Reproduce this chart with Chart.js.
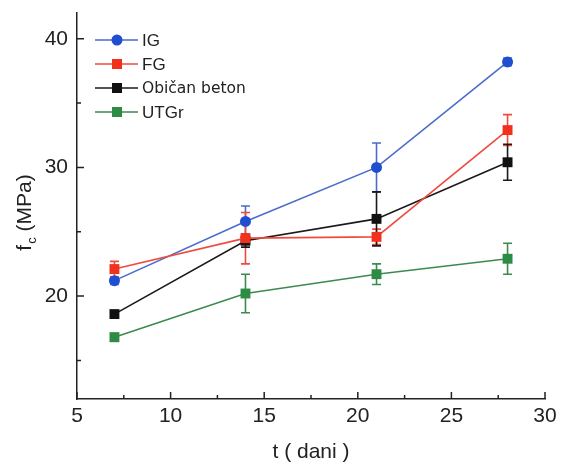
<!DOCTYPE html>
<html><head><meta charset="utf-8">
<script src="https://cdn.jsdelivr.net/npm/chart.js@4/dist/chart.umd.min.js"></script>
<style>html,body{margin:0;padding:0;background:#fff}#wrap{width:561px;height:465px}</style>
</head><body><div id="wrap"><canvas id="c" width="561" height="465"></canvas></div>
<script>
const days = [7, 14, 21, 28];
const seriesNames = ['IG', 'FG', 'Običan beton', 'UTGr'];
const igValues = [21.2, 25.8, 30.0, 38.2];
const igErrors = [0.3, 1.2, 1.9, 0.3];
const fgValues = [22.1, 24.5, 24.6, 32.9];
const fgErrors = [0.6, 2.0, 0.6, 1.2];
const obValues = [18.6, 24.3, 26.0, 30.4];
const obErrors = [0.2, 0.5, 2.1, 1.4];
const utValues = [16.8, 20.2, 21.7, 22.9];
const utErrors = [0.3, 1.5, 0.8, 1.2];
const xTicks = [5, 10, 15, 20, 25, 30];
const yTicks = [20, 30, 40];

const FONT = '"Liberation Sans", Arial, sans-serif';

function mk(label, vals, errs, color, lineColor, style, radius, order) {
  return {
    label, data: days.map((d, i) => ({x: d, y: vals[i]})), errors: errs,
    borderColor: lineColor, backgroundColor: color, pointBackgroundColor: color,
    pointBorderColor: color, pointStyle: style, pointRadius: radius, pointBorderWidth: 0,
    borderWidth: 1.6, tension: 0, order
  };
}

const datasets = [
  mk(seriesNames[0], igValues, igErrors, '#1f4fd0', '#4a6ccc', 'circle', 5.5, 2),
  mk(seriesNames[1], fgValues, fgErrors, '#f2301e', '#f04a3c', 'rect', 7, 0),
  mk(seriesNames[2], obValues, obErrors, '#111111', '#1a1a1a', 'rect', 7, 1),
  mk(seriesNames[3], utValues, utErrors, '#2e8b44', '#3d8a50', 'rect', 7, 3)
];

const customDraw = {
  id: 'customDraw',
  beforeDatasetsDraw(chart) {
    const ctx = chart.ctx, xs = chart.scales.x, ys = chart.scales.y;
    ctx.save();
    chart.data.datasets.forEach(ds => {
      ctx.strokeStyle = ds.borderColor; ctx.lineWidth = 1.6;
      ds.data.forEach((p, i) => {
        const e = ds.errors[i];
        const px = xs.getPixelForValue(p.x);
        const t = ys.getPixelForValue(p.y + e), b = ys.getPixelForValue(p.y - e);
        ctx.beginPath();
        ctx.moveTo(px, t); ctx.lineTo(px, b);
        ctx.moveTo(px - 4.5, t); ctx.lineTo(px + 4.5, t);
        ctx.moveTo(px - 4.5, b); ctx.lineTo(px + 4.5, b);
        ctx.stroke();
      });
    });
    ctx.restore();
  },
  afterDraw(chart) {
    const ctx = chart.ctx, xs = chart.scales.x, ys = chart.scales.y, a = chart.chartArea;
    ctx.save();
    ctx.strokeStyle = '#222'; ctx.lineWidth = 1.5;
    ctx.beginPath();
    for (let v = 5; v <= 30; v += 2.5) {
      const px = xs.getPixelForValue(v);
      const len = (v % 5 === 0) ? 7 : 4;
      ctx.moveTo(px, a.bottom); ctx.lineTo(px, a.bottom - len);
    }
    for (let v = 15; v <= 40; v += 5) {
      const py = ys.getPixelForValue(v);
      const len = (v % 10 === 0) ? 7 : 4;
      ctx.moveTo(a.left, py); ctx.lineTo(a.left + len, py);
    }
    ctx.stroke();
    // y title with subscript
    ctx.fillStyle = '#222';
    ctx.translate(25, 213);
    ctx.rotate(-Math.PI / 2);
    ctx.textBaseline = 'middle';
    ctx.font = '21px ' + FONT;
    const wF = ctx.measureText('f').width;
    ctx.font = '13px ' + FONT;
    const wC = ctx.measureText('c').width;
    ctx.font = '21px ' + FONT;
    const rest = ' (MPa)';
    const wR = ctx.measureText(rest).width;
    const total = wF + wC + wR;
    let x0 = -total / 2;
    ctx.textAlign = 'left';
    ctx.fillText('f', x0, 0);
    ctx.font = '13px ' + FONT;
    ctx.fillText('c', x0 + wF + 1, 7);
    ctx.font = '21px ' + FONT;
    ctx.fillText(rest, x0 + wF + wC + 1, 0);
    ctx.restore();

    // legend
    ctx.save();
    const rows = [40, 64, 88, 112];
    chart.data.datasets.forEach((ds, i) => {
      const y = rows[i];
      ctx.strokeStyle = ds.borderColor; ctx.lineWidth = 1.6;
      ctx.beginPath(); ctx.moveTo(95, y); ctx.lineTo(138, y); ctx.stroke();
      ctx.fillStyle = ds.pointBackgroundColor;
      if (ds.pointStyle === 'circle') {
        ctx.beginPath(); ctx.arc(117, y, 5.5, 0, Math.PI * 2); ctx.fill();
      } else {
        ctx.fillRect(112, y - 5, 10, 10);
      }
      ctx.fillStyle = '#222';
      ctx.textBaseline = 'middle'; ctx.textAlign = 'left';
      ctx.font = (ds.label === 'Običan beton' ? '15.5px "DejaVu Sans", sans-serif' : '17px ' + FONT);
      ctx.fillText(ds.label, 142, y + 1);
    });
    ctx.restore();
  }
};

new Chart(document.getElementById('c'), {
  type: 'line',
  data: { datasets },
  options: {
    responsive: false, animation: false,
    layout: { padding: { top: 13, right: 16, left: 0, bottom: 0 } },
    plugins: { legend: { display: false }, tooltip: { enabled: false } },
    scales: {
      x: {
        type: 'linear', min: 5, max: 30,
        afterBuildTicks: s => { s.ticks = xTicks.map(v => ({value: v})); },
        afterFit: s => { s.height = 66; s.paddingLeft = 0; s.paddingRight = 0; },
        grid: { display: false, drawTicks: false },
        border: { display: true, color: '#222', width: 1.5 },
        ticks: { padding: 5, color: '#222', font: { family: FONT, size: 21 }, maxRotation: 0 },
        title: { display: true, text: 't ( dani )', color: '#222', font: { family: FONT, size: 21 }, padding: { top: 4, bottom: 0 } }
      },
      y: {
        type: 'linear', min: 12, max: 42,
        afterBuildTicks: s => { s.ticks = yTicks.map(v => ({value: v})); },
        afterFit: s => { s.width = 77; s.paddingTop = 0; s.paddingBottom = 0; },
        grid: { display: false, drawTicks: false },
        border: { display: true, color: '#222', width: 1.5 },
        ticks: { padding: 9, color: '#222', font: { family: FONT, size: 21 } }
      }
    }
  },
  plugins: [customDraw]
});
</script></body></html>
